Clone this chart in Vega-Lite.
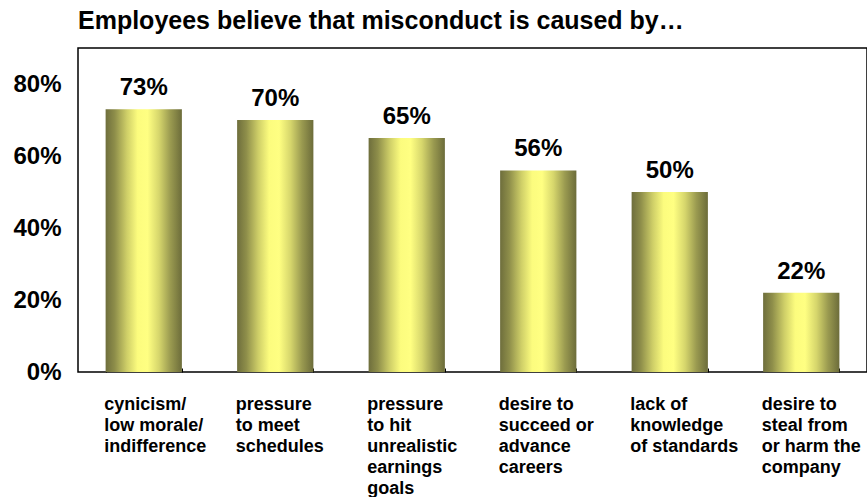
{
  "$schema": "https://vega.github.io/schema/vega-lite/v6.json",
  "width": 789,
  "height": 324,
  "padding": {"left": 12, "top": 9, "right": 0, "bottom": 0},
  "background": "white",
  "title": {
    "text": "Employees believe that misconduct is caused by…",
    "anchor": "start",
    "frame": "group",
    "font": "Liberation Sans",
    "fontSize": 25,
    "fontWeight": "bold",
    "color": "#000000",
    "offset": 14
  },
  "config": {
    "view": {"stroke": "#000000", "strokeWidth": 1.5},
    "font": "Liberation Sans"
  },
  "data": {
    "values": [
      {"cause": "cynicism/|low morale/|indifference", "share": 0.73},
      {"cause": "pressure|to meet|schedules", "share": 0.70},
      {"cause": "pressure|to hit|unrealistic|earnings|goals", "share": 0.65},
      {"cause": "desire to|succeed or|advance|careers", "share": 0.56},
      {"cause": "lack of|knowledge|of standards", "share": 0.50},
      {"cause": "desire to|steal from|or harm the|company", "share": 0.22}
    ]
  },
  "encoding": {
    "x": {
      "field": "cause",
      "type": "nominal",
      "sort": null,
      "scale": {"paddingInner": 0.42, "paddingOuter": 0.21},
      "axis": {
        "title": null,
        "domain": false,
        "grid": false,
        "ticks": true,
        "tickBand": "extent",
        "tickSize": -4,
        "tickColor": "#000000",
        "labelExpr": "isString(datum.value) ? split(datum.value, '|') : ''",
        "labelAngle": 0,
        "labelFont": "Liberation Sans",
        "labelFontSize": 18,
        "labelFontWeight": "bold",
        "labelColor": "#000000",
        "labelLineHeight": 21,
        "labelBaseline": "top",
        "labelPadding": 27,
        "labelOverlap": false,
        "labelLimit": 300,
        "labelAlign": "left",
        "labelOffset": -40
      }
    },
    "y": {
      "field": "share",
      "type": "quantitative",
      "scale": {"domain": [0, 0.9], "nice": false},
      "axis": {
        "title": null,
        "values": [0, 0.2, 0.4, 0.6, 0.8],
        "format": ".0%",
        "domain": false,
        "grid": false,
        "ticks": false,
        "labelFont": "Liberation Sans",
        "labelFontSize": 24,
        "labelFontWeight": "bold",
        "labelColor": "#000000",
        "labelPadding": 17
      }
    }
  },
  "layer": [
    {
      "mark": {
        "type": "bar",
        "color": {
          "gradient": "linear",
          "x1": 0, "y1": 0, "x2": 1, "y2": 0,
          "stops": [
            {"offset": 0, "color": "#6e6e3c"},
            {"offset": 0.12, "color": "#8e8e4a"},
            {"offset": 0.28, "color": "#cfcf68"},
            {"offset": 0.42, "color": "#fcfc7e"},
            {"offset": 0.55, "color": "#ffff82"},
            {"offset": 0.7, "color": "#d6d66c"},
            {"offset": 0.85, "color": "#9a9a50"},
            {"offset": 1, "color": "#6c6c3a"}
          ]
        }
      }
    },
    {
      "mark": {
        "type": "text",
        "font": "Liberation Sans",
        "fontSize": 24,
        "fontWeight": "bold",
        "color": "#000000",
        "baseline": "alphabetic",
        "dy": -14
      },
      "encoding": {
        "text": {"field": "share", "type": "quantitative", "format": ".0%"}
      }
    }
  ]
}
